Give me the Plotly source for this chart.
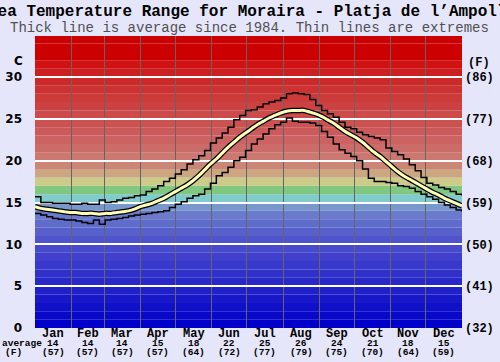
import plotly.graph_objects as go

# ---- data ----
months = ["Jan", "Feb", "Mar", "Apr", "May", "Jun", "Jul", "Aug", "Sep", "Oct", "Nov", "Dec"]
month_days = [31, 28, 31, 30, 31, 30, 31, 31, 30, 31, 30, 31]
month_avg_c = ["14", "14", "14", "15", "18", "22", "25", "26", "24", "21", "18", "15"]
month_avg_f = ["(57)", "(57)", "(57)", "(57)", "(64)", "(72)", "(77)", "(79)", "(75)", "(70)", "(64)", "(59)"]

days = list(range(0, 366, 5))
avg_temp = [14.5, 14.3, 14.2, 14.1, 14.0, 13.9, 13.8, 13.8, 13.7, 13.7, 13.7, 13.6, 13.7, 13.7,
            13.8, 13.9, 14.0, 14.2, 14.5, 14.7, 14.9, 15.2, 15.5, 15.9, 16.3, 16.7, 17.1, 17.6,
            18.2, 18.9, 19.6, 20.2, 20.9, 21.6, 22.2, 22.8, 23.3, 23.8, 24.3, 24.7, 25.1, 25.4,
            25.7, 25.9, 26.0, 26.0, 26.0, 25.8, 25.6, 25.3, 24.9, 24.5, 24.0, 23.5, 23.1, 22.7,
            22.2, 21.6, 21.0, 20.5, 19.9, 19.3, 18.7, 18.2, 17.8, 17.4, 17.0, 16.6, 16.2, 15.9,
            15.5, 15.2, 14.9, 14.6]
max_temp = [15.7, 15.0, 15.0, 14.9, 14.9, 14.9, 14.8, 14.8, 14.9, 14.8, 14.8, 15.3, 15.0, 15.1,
            15.3, 15.5, 15.6, 15.8, 15.9, 16.3, 16.6, 17.0, 17.5, 17.9, 18.4, 18.9, 19.6, 20.1,
            20.6, 21.2, 22.1, 22.7, 23.3, 24.0, 24.9, 25.4, 26.0, 26.1, 26.4, 26.8, 27.0, 27.2,
            27.5, 28.0, 28.1, 28.0, 27.9, 27.3, 26.6, 26.0, 25.6, 25.2, 24.6, 24.0, 23.8, 23.4,
            23.1, 22.9, 22.7, 22.5, 21.5, 21.1, 20.7, 20.2, 19.5, 18.8, 18.0, 17.3, 17.1, 16.8,
            16.6, 16.3, 16.0, 15.8]
min_temp = [13.7, 13.5, 13.3, 13.1, 13.0, 12.9, 12.9, 12.8, 12.6, 12.5, 12.9, 12.4, 12.9, 13.0,
            13.1, 13.2, 13.4, 13.5, 13.6, 13.7, 13.8, 13.9, 14.0, 14.4, 14.8, 15.1, 15.5, 15.8,
            16.0, 16.6, 17.3, 18.2, 18.6, 19.2, 20.0, 20.4, 21.2, 22.0, 22.6, 23.2, 23.8, 24.3,
            24.6, 25.1, 24.7, 24.6, 24.6, 24.5, 24.2, 23.5, 22.8, 22.0, 21.3, 20.9, 20.5, 20.0,
            19.0, 17.9, 17.5, 17.5, 17.4, 17.3, 17.0, 16.9, 16.7, 16.3, 16.0, 15.7, 15.4, 15.0,
            14.7, 14.4, 14.1, 13.9]

c_ticks = [0, 5, 10, 15, 20, 25, 30]
f_labels = ["(32)", "(41)", "(50)", "(59)", "(68)", "(77)", "(86)"]

# ---- styling ----
band_colors = [
    (0, 0, 200), (8, 8, 200), (16, 16, 200), (24, 24, 200), (32, 32, 200), (40, 40, 200),
    (48, 48, 202), (56, 56, 204), (64, 64, 204), (72, 74, 204), (80, 84, 204), (88, 96, 204),
    (96, 108, 204), (106, 122, 204), (120, 152, 204), (128, 204, 204), (128, 200, 128),
    (204, 204, 136), (204, 166, 128), (204, 134, 120), (204, 120, 112), (204, 108, 104),
    (204, 98, 98), (204, 90, 90), (204, 82, 82), (204, 74, 74), (204, 66, 66), (204, 58, 58),
    (204, 50, 50), (204, 42, 42), (204, 32, 32), (208, 18, 18), (204, 0, 0), (204, 0, 0),
    (204, 0, 0),
]
Y_TOP = 34.9
BG = "#e6e6fa"
MONO = "Liberation Mono, Courier New, monospace"
L, R, T, B = 35, 38, 36, 34
W, H = 500, 362

shapes = []
for i, col in enumerate(band_colors):
    shapes.append(dict(type="rect", xref="x", yref="y", x0=0, x1=365, y0=i, y1=min(i + 1, Y_TOP),
                       fillcolor="rgb(%d,%d,%d)" % col, line=dict(width=0), layer="below"))

boundaries = []
mids = []
acc = 0
for d in month_days:
    mids.append(acc + d / 2)
    acc += d
    boundaries.append(acc)

fig = go.Figure()
fig.add_trace(go.Scatter(x=days, y=max_temp, mode="lines", line=dict(color="black", width=1.5, shape="hv"),
                         hoverinfo="skip", showlegend=False))
fig.add_trace(go.Scatter(x=days, y=min_temp, mode="lines", line=dict(color="black", width=1.5, shape="hv"),
                         hoverinfo="skip", showlegend=False))
fig.add_trace(go.Scatter(x=days, y=avg_temp, mode="lines", line=dict(color="black", width=5.5, shape="spline"),
                         hoverinfo="skip", showlegend=False))
fig.add_trace(go.Scatter(x=days, y=avg_temp, mode="lines", line=dict(color="#ffffb8", width=3, shape="spline"),
                         hoverinfo="skip", showlegend=False))
fig.add_trace(go.Scatter(x=[days[0]], y=[avg_temp[0]], yaxis="y2", mode="markers",
                         marker=dict(opacity=0), hoverinfo="skip", showlegend=False))

plot_h = H - T - B
plot_w = W - L - R
def py(pix):
    return (H - B - pix) / plot_h
def px(pix):
    return (pix - L) / plot_w

anns = []
anns.append(dict(text="<b>Sea Temperature Range for Moraira - Platja de l’Ampolla</b>",
                 x=px(252), y=py(12), xref="paper", yref="paper", showarrow=False,
                 xanchor="center", yanchor="middle",
                 font=dict(family=MONO, size=16, color="black")))
anns.append(dict(text="Thick line is average since 1984. Thin lines are extremes",
                 x=px(249), y=py(28), xref="paper", yref="paper", showarrow=False,
                 xanchor="center", yanchor="middle",
                 font=dict(family=MONO, size=14, color="#505050")))
anns.append(dict(text="<b>C</b>", x=px(18), y=py(61), xref="paper", yref="paper", showarrow=False,
                 xanchor="center", yanchor="middle", font=dict(family="DejaVu Sans", size=12, color="black")))
anns.append(dict(text="<b>(F)</b>", x=px(479), y=py(63), xref="paper", yref="paper", showarrow=False,
                 xanchor="center", yanchor="middle", font=dict(family=MONO, size=12, color="black")))
anns.append(dict(text="<b>average</b>", x=px(22), y=py(343), xref="paper", yref="paper", showarrow=False,
                 xanchor="center", yanchor="middle", font=dict(family=MONO, size=9.5, color="black")))
anns.append(dict(text="<b>(F)</b>", x=px(13), y=py(352.5), xref="paper", yref="paper", showarrow=False,
                 xanchor="center", yanchor="middle", font=dict(family=MONO, size=9.5, color="black")))
for m, mid, c, f in zip(months, mids, month_avg_c, month_avg_f):
    anns.append(dict(text="<b>%s</b>" % m, x=mid, y=py(334), xref="x", yref="paper", showarrow=False,
                     xanchor="center", yanchor="middle", font=dict(family=MONO, size=12, color="black")))
    anns.append(dict(text="<b>%s</b>" % c, x=mid, y=py(343), xref="x", yref="paper", showarrow=False,
                     xanchor="center", yanchor="middle", font=dict(family=MONO, size=9.5, color="black")))
    anns.append(dict(text="<b>%s</b>" % f, x=mid, y=py(352.5), xref="x", yref="paper", showarrow=False,
                     xanchor="center", yanchor="middle", font=dict(family=MONO, size=9.5, color="black")))

fig.update_layout(
    width=W, height=H,
    margin=dict(l=L, r=R, t=T, b=B, pad=0, autoexpand=False),
    paper_bgcolor=BG, plot_bgcolor=BG,
    shapes=shapes,
    annotations=anns,
    xaxis=dict(range=[0, 365], tickvals=boundaries[:-1], showticklabels=False, showgrid=True,
               gridcolor="#656565", gridwidth=1, zeroline=False, ticks="", fixedrange=True,
               automargin=False),
    yaxis=dict(range=[0, Y_TOP], tickvals=c_ticks, showgrid=True, gridcolor="white", gridwidth=2,
               zeroline=False, ticks="", ticklabelstandoff=12, automargin=False,
               tickfont=dict(family="DejaVu Sans", size=12, color="black", weight="bold")),
    yaxis2=dict(range=[0, Y_TOP], overlaying="y", side="right", tickvals=c_ticks, ticktext=f_labels,
                showgrid=False, zeroline=False, ticks="", ticklabelstandoff=2, automargin=False,
                tickfont=dict(family=MONO, size=12, color="black", weight="bold")),
)

fig.write_html("out.html", config={"displayModeBar": False},
               post_script="document.body.style.margin='0px';document.body.style.overflow='hidden';")
